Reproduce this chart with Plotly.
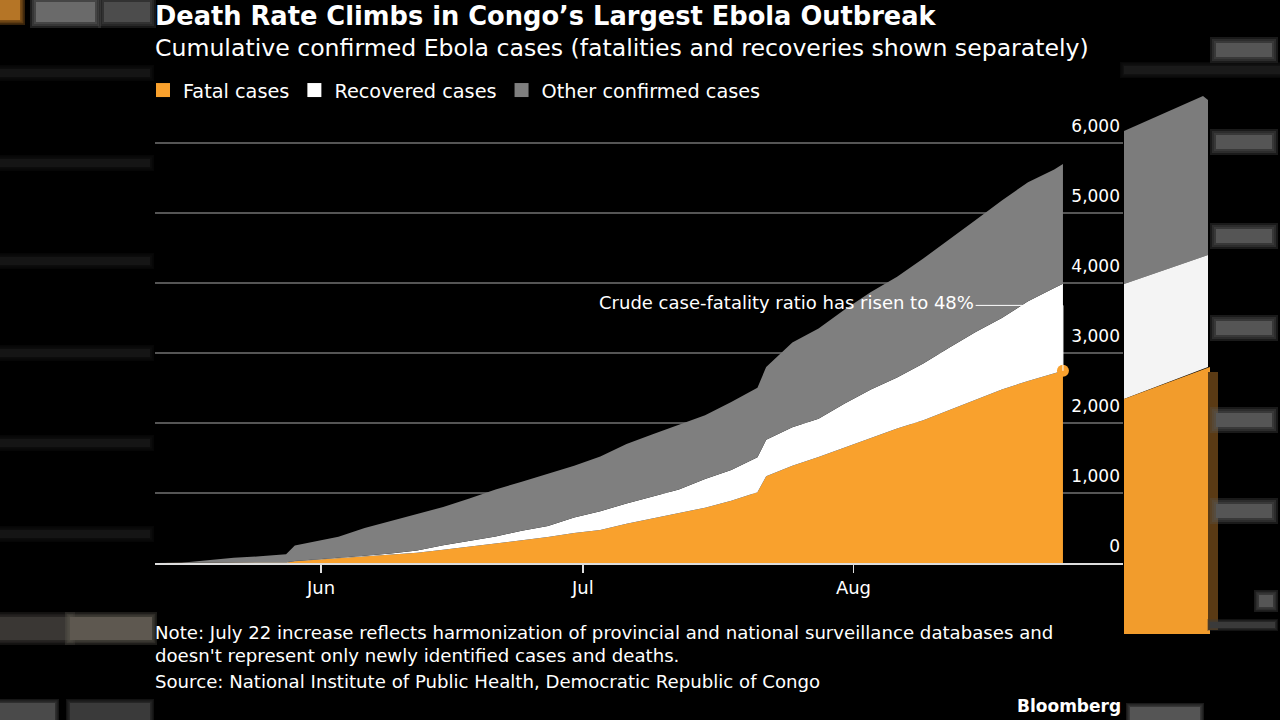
import plotly.graph_objects as go

# ---------------- data ----------------
dates = ["2019-05-13", "2019-05-16", "2019-05-19", "2019-05-22", "2019-05-25", "2019-05-28",
         "2019-05-29", "2019-05-31", "2019-06-03", "2019-06-06", "2019-06-09", "2019-06-12",
         "2019-06-15", "2019-06-18", "2019-06-21", "2019-06-24", "2019-06-27", "2019-06-30",
         "2019-07-03", "2019-07-06", "2019-07-09", "2019-07-12", "2019-07-15", "2019-07-18",
         "2019-07-21", "2019-07-22", "2019-07-25", "2019-07-28", "2019-07-31", "2019-08-03",
         "2019-08-06", "2019-08-09", "2019-08-12", "2019-08-15", "2019-08-18", "2019-08-21",
         "2019-08-24", "2019-08-25"]
fatal = [0, 0, 1, 2, 3, 5, 24, 40, 65, 95, 120, 145, 190, 235, 290, 330, 370, 430,
         470, 560, 640, 710, 790, 890, 1010, 1240, 1390, 1515, 1650, 1790, 1920, 2040,
         2190, 2340, 2480, 2600, 2710, 2745]
recovered = [0, 3, 4, 6, 7, 7, 4, 5, 10, 10, 15, 35, 65, 85, 90, 130, 160, 220,
             270, 290, 310, 340, 410, 440, 500, 520, 550, 545, 630, 690, 730, 810,
             890, 960, 1020, 1140, 1220, 1245]
other = [0, 2, 35, 67, 85, 113, 222, 255, 301, 395, 465, 510, 545, 600, 670, 700, 740, 740,
         780, 850, 890, 920, 910, 970, 995, 1040, 1210, 1290, 1340, 1390, 1440, 1500,
         1540, 1600, 1680, 1700, 1690, 1710]

series_names = ["Fatal cases", "Recovered cases", "Other confirmed cases"]
series_colors = ["#f9a12d", "#ffffff", "#7f7f7f"]

month_ticks = ["2019-06-01", "2019-07-01", "2019-08-01"]
month_labels = ["Jun", "Jul", "Aug"]
y_ticks = [0, 1000, 2000, 3000, 4000, 5000, 6000]

x_range = ["2019-05-12 23:35", "2019-08-31 21:07"]
y_range = [0, 6500]

annotation_text = "Crude case-fatality ratio has risen to 48%"
annotation_y = 3680
annotation_x_start = "2019-08-15"

FONT = "DejaVu Sans, sans-serif"

fig = go.Figure()

for name, vals, col in zip(series_names, [fatal, recovered, other], series_colors):
    fig.add_trace(go.Scatter(
        x=dates, y=vals, name=name, stackgroup="one", mode="lines",
        line=dict(width=0, color=col), fillcolor=col, showlegend=False,
        hoverinfo="skip"))

# legend entries (square swatches)
for name, col in zip(series_names, series_colors):
    fig.add_trace(go.Scatter(
        x=[None], y=[None], mode="markers", name=name,
        marker=dict(symbol="square", size=14, color=col), showlegend=True))

# end dot on fatal cases
fig.add_trace(go.Scatter(
    x=[dates[-1]], y=[fatal[-1]], mode="markers",
    marker=dict(size=12, color=series_colors[0]), showlegend=False, hoverinfo="skip"))

# annotation connector
fig.add_shape(type="line", xref="x", yref="y", x0=annotation_x_start, x1=dates[-1],
              y0=annotation_y, y1=annotation_y, line=dict(color="white", width=1))
fig.add_shape(type="line", xref="x", yref="y", x0=dates[-1], x1=dates[-1],
              y0=annotation_y, y1=fatal[-1], line=dict(color="white", width=1))
fig.add_annotation(x=annotation_x_start, y=annotation_y, xref="x", yref="y",
                   text=annotation_text, showarrow=False, xanchor="right", yanchor="middle",
                   xshift=0, yshift=3, font=dict(family=FONT, size=18, color="white"))

# ------------- blurred side decoration (background of the screenshot) -------------
W, H = 1280, 720
L, R, B = 155, 1123, 563
PX_PER_UNIT = 0.07
T = B - y_range[1] * PX_PER_UNIT


def px(x):
    return (x - L) / (R - L)


def py(y):
    return (B - y) / (B - T)


def soft_rect(x0, y0, x1, y1, color, spread=5, steps=3):
    for i in range(steps, -1, -1):
        s = spread * i / max(steps, 1)
        op = 1.0 if i == 0 else 0.3
        fig.add_shape(type="rect", xref="paper", yref="paper", layer="below",
                      x0=px(x0 - s), x1=px(x1 + s), y0=py(y1 + s), y1=py(y0 - s),
                      fillcolor=color, opacity=op, line=dict(width=0))


def soft_poly(points, color):
    path = "M " + " L ".join(f"{px(a)},{py(b)}" for a, b in points) + " Z"
    fig.add_shape(type="path", xref="paper", yref="paper", layer="below", path=path,
                  fillcolor=color, line=dict(width=0))


# right strip
soft_poly([(1124, 131), (1203, 96), (1208, 100), (1208, 255), (1124, 284)], "#7c7c7c")
soft_poly([(1124, 284), (1208, 255), (1208, 367), (1124, 399)], "#f4f4f4")
soft_poly([(1124, 399), (1210, 367), (1210, 634), (1124, 634)], "#f29c2c")
soft_poly([(1208, 372), (1218, 372), (1218, 630), (1208, 630)], "#5a3a14")
for yy in [50, 142, 236, 328, 420, 511]:
    soft_rect(1216, yy - 7, 1272, yy + 7, "#555555", spread=6)
soft_rect(1259, 595, 1273, 607, "#555555", spread=5)
soft_rect(1124, 66, 1280, 74, "#1a1a1a", spread=4)
soft_rect(1210, 622, 1275, 628, "#3a3a3a", spread=3)
soft_rect(1130, 707, 1200, 720, "#555555", spread=4)

# left strip
soft_rect(0, 0, 20, 20, "#b57526", spread=5)
soft_rect(36, 2, 95, 22, "#6a6a6a", spread=6)
soft_rect(104, 2, 150, 22, "#4c4c4c", spread=6)
for yy in [73, 163, 261, 353, 443, 534]:
    soft_rect(0, yy - 4, 150, yy + 4, "#151515", spread=4)
soft_rect(0, 617, 70, 640, "#3a3734", spread=5)
soft_rect(70, 617, 152, 640, "#5e5850", spread=5)
soft_rect(0, 703, 55, 720, "#4a4a4a", spread=4)
soft_rect(70, 703, 150, 720, "#3a3a3a", spread=4)

# ---------------- text ----------------
fig.add_annotation(xref="paper", yref="paper", x=0, y=py(48), xanchor="left", yanchor="middle",
                   showarrow=False, xshift=-2,
                   text="Cumulative confirmed Ebola cases (fatalities and recoveries shown separately)",
                   font=dict(family=FONT, size=23.6, color="white"))
fig.add_annotation(xref="paper", yref="paper", x=0, y=py(632), xanchor="left", yanchor="middle",
                   showarrow=False, xshift=-2,
                   text="Note: July 22 increase reflects harmonization of provincial and national surveillance databases and",
                   font=dict(family=FONT, size=18.15, color="white"))
fig.add_annotation(xref="paper", yref="paper", x=0, y=py(655), xanchor="left", yanchor="middle",
                   showarrow=False, xshift=-2,
                   text="doesn't represent only newly identified cases and deaths.",
                   font=dict(family=FONT, size=18.15, color="white"))
fig.add_annotation(xref="paper", yref="paper", x=0, y=py(681), xanchor="left", yanchor="middle",
                   showarrow=False, xshift=-2,
                   text="Source: National Institute of Public Health, Democratic Republic of Congo",
                   font=dict(family=FONT, size=18.15, color="white"))
fig.add_annotation(xref="paper", yref="paper", x=1, y=py(706), xanchor="right", yanchor="middle",
                   showarrow=False, text="<b>Bloomberg</b>",
                   font=dict(family=FONT, size=17, color="white"))

fig.update_layout(
    width=W, height=H,
    margin=dict(l=L, r=W - R, t=T, b=H - B, pad=0),
    paper_bgcolor="black", plot_bgcolor="black",
    font=dict(family=FONT, color="white"),
    title=dict(text="<b>Death Rate Climbs in Congo’s Largest Ebola Outbreak</b>",
               xref="paper", x=0, xanchor="left", yref="container", y=1 - 16 / H,
               yanchor="middle", font=dict(family=FONT, size=25.7, color="white")),
    legend=dict(orientation="h", traceorder="normal", x=px(143), y=py(90.5),
                xanchor="left", yanchor="middle",
                bgcolor="rgba(0,0,0,0)", font=dict(family=FONT, size=19.3, color="white"),
                itemclick=False, itemdoubleclick=False),
    xaxis=dict(type="date", range=x_range, showgrid=False, zeroline=False,
               tickvals=month_ticks, ticktext=month_labels, ticks="outside", ticklen=8,
               tickwidth=1.5, tickcolor="#dddddd", showline=True, linecolor="#dddddd",
               linewidth=1.5, tickfont=dict(family=FONT, size=18, color="white")),
    yaxis=dict(range=y_range, side="right", tickvals=y_ticks, tickformat=",d",
               showgrid=True, gridcolor="#555555", gridwidth=1.5, zeroline=False,
               ticklabelposition="inside", ticklabelshift=-17, ticks="",
               tickfont=dict(family=FONT, size=17, color="white")),
    showlegend=True,
)

fig.write_html(
    "out.html",
    config={"displayModeBar": False, "staticPlot": True},
    post_script="document.documentElement.style.background='black';"
                "document.body.style.margin='0';document.body.style.background='black';"
                "document.body.style.overflow='hidden';")
